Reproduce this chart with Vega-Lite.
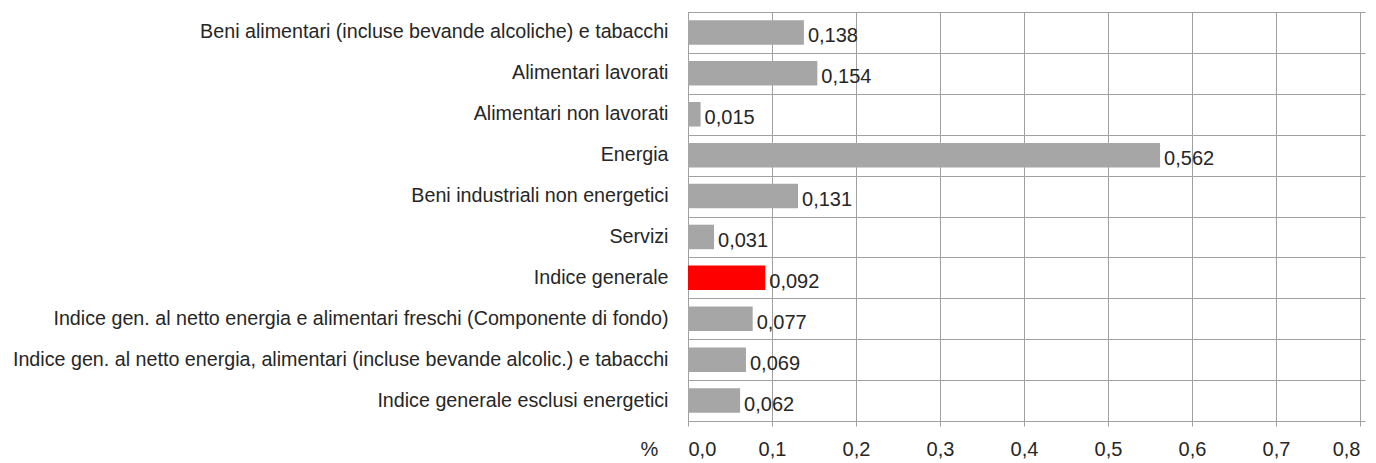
{
  "$schema": "https://vega.github.io/schema/vega-lite/v6.json",
  "width": 672,
  "height": 409,
  "autosize": "none",
  "padding": {"left": 688, "top": 12, "right": 16, "bottom": 42},
  "background": "white",
  "config": {
    "locale": {"number": {"decimal": ",", "thousands": ".", "grouping": [3], "currency": ["€", ""]}},
    "font": "Liberation Sans",
    "view": {"stroke": "#a0a0a0", "strokeWidth": 1},
    "axis": {"domain": false, "gridColor": "#a0a0a0", "gridOpacity": 1, "tickColor": "#a0a0a0", "labelColor": "#262626", "titleColor": "#262626", "labelFont": "Liberation Sans", "titleFont": "Liberation Sans"}
  },
  "data": {
    "values": [
      {"cat": "Beni alimentari (incluse bevande alcoliche) e tabacchi", "v": 0.138},
      {"cat": "Alimentari lavorati", "v": 0.154},
      {"cat": "Alimentari non lavorati", "v": 0.015},
      {"cat": "Energia", "v": 0.562},
      {"cat": "Beni industriali non energetici", "v": 0.131},
      {"cat": "Servizi", "v": 0.031},
      {"cat": "Indice generale", "v": 0.092},
      {"cat": "Indice gen. al netto energia e alimentari freschi (Componente di fondo)", "v": 0.077},
      {"cat": "Indice gen. al netto energia, alimentari (incluse bevande alcolic.) e tabacchi", "v": 0.069},
      {"cat": "Indice generale esclusi energetici", "v": 0.062}
    ]
  },
  "layer": [
    {
      "mark": {"type": "bar", "height": {"band": 0.6}},
      "encoding": {
        "y": {
          "field": "cat", "type": "nominal", "sort": null,
          "scale": {"paddingInner": 0, "paddingOuter": 0},
          "axis": {"title": null, "ticks": false, "tickSize": 0, "grid": false, "labelPadding": 20, "labelFontSize": 19.7, "labelLimit": 800}
        },
        "x": {
          "field": "v", "type": "quantitative",
          "scale": {"domain": [0, 0.8], "nice": false},
          "axis": {"values": [0, 0.1, 0.2, 0.3, 0.4, 0.5, 0.6, 0.7, 0.8], "format": ".1f", "grid": true, "tickSize": 5, "labelPadding": 13, "labelFontSize": 20, "title": "%", "titleFontSize": 20, "titleFontWeight": "normal", "titleAngle": 0, "titleAnchor": "start", "titleAlign": "left", "titleBaseline": "top", "titleX": -48, "titleY": 18}
        },
        "color": {"condition": {"test": "datum.cat === 'Indice generale'", "value": "#ff0000"}, "value": "#a6a6a6"}
      }
    },
    {
      "mark": {"type": "text", "align": "left", "baseline": "middle", "dx": 4, "dy": 4, "fontSize": 20, "color": "#262626"},
      "encoding": {
        "y": {
          "field": "cat", "type": "nominal", "sort": null,
          "axis": {"title": null, "labels": false, "bandPosition": 0, "grid": true, "ticks": true, "tickSize": 5, "tickBand": "extent"}
        },
        "x": {"field": "v", "type": "quantitative"},
        "text": {"field": "v", "type": "quantitative", "format": ".3f"}
      }
    }
  ],
  "resolve": {"axis": {"y": "independent"}}
}
